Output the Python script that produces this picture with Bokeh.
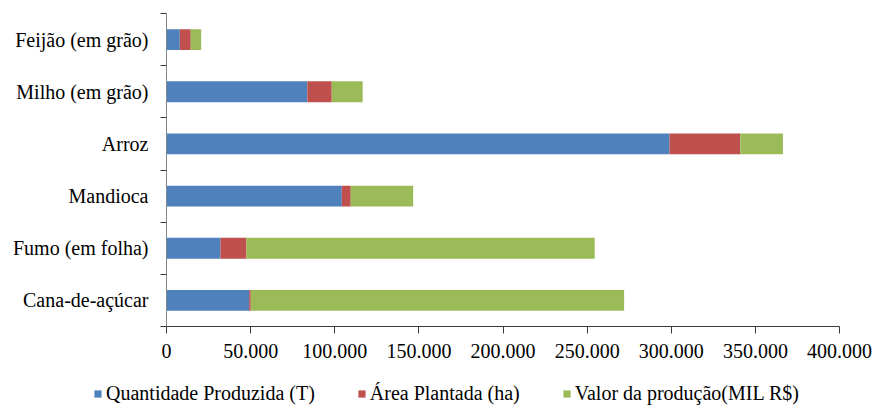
from bokeh.plotting import figure
from bokeh.layouts import column, row
from bokeh.models import (ColumnDataSource, Range1d, FixedTicker, Legend, LegendItem)
from bokeh.embed import file_html
from bokeh.resources import INLINE

categories = ["Feijão (em grão)", "Milho (em grão)", "Arroz", "Mandioca",
              "Fumo (em folha)", "Cana-de-açúcar"]
quantidade = [7900, 83700, 299000, 104200, 32100, 49100]
area = [6500, 14500, 42000, 5300, 15400, 1000]
valor = [6200, 18400, 25400, 37100, 207000, 221900]
series_names = ["Quantidade Produzida (T)", "Área Plantada (ha)", "Valor da produção(MIL R$)"]
x_tick_values = [0, 50000, 100000, 150000, 200000, 250000, 300000, 350000, 400000]
x_tick_labels = ["0", "50.000", "100.000", "150.000", "200.000", "250.000",
                 "300.000", "350.000", "400.000"]

colors = ["#4F81BD", "#C0504D", "#9BBB59"]
FONT = "'Liberation Serif', 'Times New Roman', serif"

n = len(categories)
ypos = [n - i for i in range(n)]  # first category at top

source = ColumnDataSource(dict(y=ypos, q=quantidade, a=area, v=valor))

p = figure(width=872, height=372, output_backend="svg", toolbar_location=None,
           x_range=Range1d(0, 400000), y_range=Range1d(0.5, n + 0.5),
           min_border_left=166, min_border_right=33, min_border_top=13,
           min_border_bottom=46)
p.outline_line_color = None
p.xgrid.visible = False
p.ygrid.visible = False
p.background_fill_color = "white"
p.border_fill_color = "white"

renderers = p.hbar_stack(["q", "a", "v"], y="y", height=0.4, color=colors,
                         line_color=None, source=source)

# x axis
xa = p.xaxis[0]
xa.ticker = FixedTicker(ticks=x_tick_values)
xa.major_label_overrides = {v: l for v, l in zip(x_tick_values, x_tick_labels)}
xa.axis_line_color = "#3a3a3a"
xa.major_tick_line_color = "#3a3a3a"
xa.major_tick_out = 7
xa.major_tick_in = 0
xa.minor_tick_line_color = None
xa.major_label_standoff = 10
xa.major_label_text_font = FONT
xa.major_label_text_font_size = "20px"
xa.major_label_text_color = "#000000"

# y axis
ya = p.yaxis[0]
ya.ticker = FixedTicker(ticks=ypos, minor_ticks=[k + 0.5 for k in range(n + 1)])
ya.major_label_overrides = {y: c for y, c in zip(ypos, categories)}
ya.axis_line_color = "#868686"
ya.major_tick_line_color = None
ya.major_tick_out = 0
ya.major_tick_in = 0
ya.minor_tick_line_color = "#3a3a3a"
ya.minor_tick_out = 6
ya.minor_tick_in = 0
ya.major_label_standoff = 12
ya.major_label_text_font = FONT
ya.major_label_text_font_size = "20px"
ya.major_label_text_color = "#000000"

# legend strip below the chart
pl = figure(width=872, height=33, output_backend="svg", toolbar_location=None,
            x_range=Range1d(0, 1), y_range=Range1d(0, 1),
            x_axis_type=None, y_axis_type=None,
            min_border_left=0, min_border_right=0, min_border_top=0,
            min_border_bottom=0)
pl.outline_line_color = None
pl.xgrid.visible = False
pl.ygrid.visible = False
pl.border_fill_color = "white"
proxies = [pl.hbar(y=[-10], left=[0], right=[1], height=0.4, color=c, line_color=None)
           for c in colors]

legend = Legend(items=[LegendItem(label=s, renderers=[r]) for s, r in zip(series_names, proxies)],
                orientation="horizontal", location=(93, 0),
                glyph_width=9, glyph_height=9, label_standoff=4, spacing=42,
                padding=0, margin=0, border_line_color=None,
                background_fill_alpha=0, label_text_font=FONT,
                label_text_font_size="20px", label_text_color="#000000")
pl.add_layout(legend, "center")

layout = column(p, row(pl), spacing=0)

open("out.html", "w").write(file_html(layout, INLINE))
